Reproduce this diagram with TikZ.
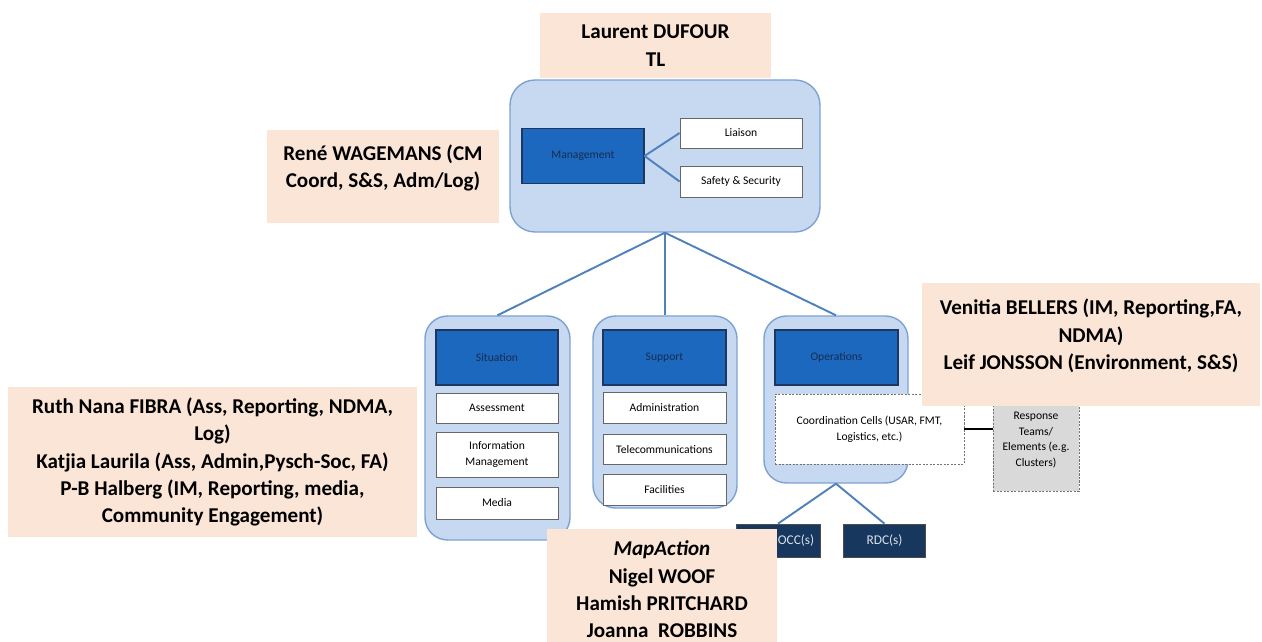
\documentclass[tikz,border=0pt]{standalone}
\usepackage{fontspec}
\setmainfont{Carlito}
\usetikzlibrary{positioning, calc}
\definecolor{peach}{RGB}{251,229,214}
\definecolor{grpfill}{RGB}{198,217,240}
\definecolor{grpdraw}{RGB}{125,162,210}
\definecolor{headfill}{RGB}{28,104,190}
\definecolor{headdraw}{RGB}{30,55,98}
\definecolor{navy}{RGB}{23,55,94}
\definecolor{link}{RGB}{79,129,189}

\begin{document}
\begin{tikzpicture}[
    x=0.02cm, y=-0.02cm,
    namebox/.style={fill=peach, inner sep=0pt, align=center, font=\fontsize{12}{15.5}\selectfont\bfseries},
    group/.style={draw=grpdraw, fill=grpfill, line width=0.8pt, rounded corners=0.45cm, minimum width=2.88cm},
    head/.style={draw=headdraw, fill=headfill, line width=0.6pt, minimum width=2.44cm, minimum height=1.1cm, font=\fontsize{6.6}{9}\selectfont, text=headdraw!80!black},
    sub/.style={draw=black!60, fill=white, line width=0.5pt, minimum width=2.44cm, align=center, font=\fontsize{6.6}{9}\selectfont},
    dashbox/.style={sub, dash pattern=on 1.2pt off 0.8pt, draw=black!55},
    navybox/.style={draw=black!70, fill=navy, minimum width=1.63cm, minimum height=0.66cm, font=\fontsize{7.6}{9}\selectfont, text=white!85!navy},
    link/.style={draw=link, line width=1.1pt}
]
\useasboundingbox (0,0) rectangle (1262,642);

% management block
\node[group, minimum width=6.2cm, minimum height=3.04cm, rounded corners=0.5cm] (mgmtgrp) at (665,156) {};
\node[head] (mgmt) at (583,156) {Management};
\node[sub, minimum height=0.6cm] (liaison) at (741,133) {Liaison};
\node[sub, minimum height=0.62cm] (safety) at (741,181.5) {Safety \& Security};
\draw[link] (mgmt.east) -- (liaison.west);
\draw[link] (mgmt.east) -- (safety.west);

% sections
\node[group, minimum width=2.9cm, minimum height=4.48cm] (sitgrp) at (497.5,428) {};
\node[group, minimum height=3.84cm] (supgrp) at (665,412) {};
\node[group, minimum height=3.34cm] (opsgrp) at (836,399.5) {};
\foreach \g in {sitgrp, supgrp, opsgrp}
    \draw[link] (mgmtgrp.south) -- (\g.north);

\node[head] (situation) at (497,357.5) {Situation};
\node[sub, minimum height=0.6cm] (assess) at (497,408) {Assessment};
\node[sub, minimum height=0.9cm] (infomgmt) at (497,454.5) {Information\\Management};
\node[sub, minimum height=0.64cm] (media) at (497,503) {Media};

\node[head, minimum width=2.46cm] (support) at (664.5,357.5) {Support};
\foreach \name/\y/\txt in {admin/408/Administration, telecom/449.5/Telecommunications, facil/490/Facilities}
    \node[sub, minimum width=2.46cm, minimum height=0.61cm] (\name) at (664.5,\y) {\txt};

\node[head, minimum width=2.46cm] (operations) at (836.5,357.5) {Operations};
\node[dashbox, minimum width=3.78cm, minimum height=1.4cm] (coord) at (869.5,429) {Coordination Cells (USAR, FMT,\\Logistics, etc.)};
\node[dashbox, fill=black!15, minimum width=1.72cm, minimum height=2.06cm] (resp) at (1036,440) {Response\\Teams/\\Elements (e.g.\\Clusters)};
\draw[black, line width=1.1pt] (coord.east) -- (coord.east -| resp.west);

\node[navybox, text width=1.45cm, align=right] (gocc) at (778,540.5) {GOCC(s)};
\node[navybox] (rdc) at (884.5,540.5) {RDC(s)};
\draw[link] (opsgrp.south) -- (gocc.north);
\draw[link] (opsgrp.south) -- (rdc.north);

% names
\node[namebox, minimum width=4.62cm, minimum height=1.3cm] (laurent) at (655.5,45.5) {Laurent DUFOUR\\TL};
\node[namebox, minimum width=4.64cm, minimum height=1.86cm] (rene) at (383,176.5) {René WAGEMANS (CM\\Coord, S\&S, Adm/Log)\\[-4pt]\mbox{}};
\node[namebox, minimum width=6.76cm, minimum height=2.46cm] (venitia) at (1091,344.5) {Venitia BELLERS (IM, Reporting,FA,\\NDMA)\\Leif JONSSON (Environment, S\&S)\\[-4pt]\mbox{}};
\node[namebox, minimum width=8.2cm, minimum height=3.0cm] (ruth) at (212.5,462) {Ruth Nana FIBRA (Ass, Reporting, NDMA,\\Log)\\Katjia Laurila (Ass, Admin,Pysch-Soc, FA)\\P-B Halberg (IM, Reporting, media,\\Community Engagement)};
\node[namebox, minimum width=4.6cm, minimum height=2.42cm] (mapaction) at (662,589.5) {\textit{MapAction}\\Nigel WOOF\\Hamish PRITCHARD\\Joanna\ \ ROBBINS};

\end{tikzpicture}
\end{document}
